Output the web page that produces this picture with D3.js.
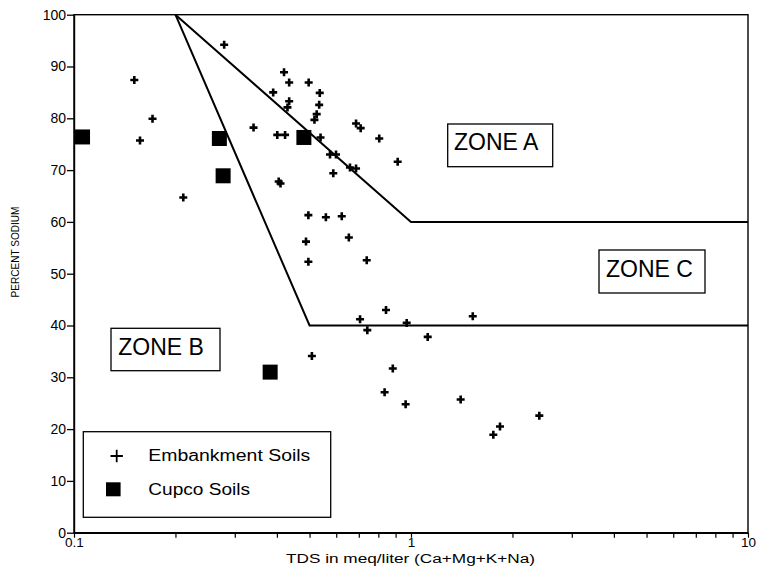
<!DOCTYPE html>
<html>
<head>
<meta charset="utf-8">
<script src="https://cdn.jsdelivr.net/npm/d3@7/dist/d3.min.js"></script>
<style>
  html, body { margin: 0; padding: 0; background: #fff; }
  svg { display: block; }
  text { font-family: "Liberation Sans", Arial, Helvetica, sans-serif; fill: #000; }
</style>
</head>
<body>
<svg id="chart" width="760" height="574"></svg>
<script>
// Embankment soils: TDS (meq/liter) and percent sodium
const embankTDS = [0.151, 0.171, 0.157, 0.211, 0.279, 0.341, 0.420, 0.435, 0.497, 0.390,
  0.536, 0.435, 0.430, 0.534, 0.525, 0.517, 0.401, 0.423, 0.539, 0.687,
  0.709, 0.805, 0.913, 0.575, 0.599, 0.659, 0.687, 0.588, 0.405, 0.410,
  0.496, 0.559, 0.623, 0.654, 0.488, 0.496, 0.739, 0.843, 0.706, 0.742,
  0.971, 1.525, 1.121, 0.508, 0.883, 0.835, 0.964, 1.404, 2.403, 1.837, 1.755];
const embankNa = [87.4, 79.9, 75.7, 64.7, 94.2, 78.2, 88.9, 86.9, 86.9, 85.0,
  84.9, 83.3, 82.1, 82.6, 80.8, 79.7, 76.8, 76.8, 76.3, 79.0,
  78.1, 76.1, 71.6, 73.0, 73.0, 70.5, 70.3, 69.4, 67.8, 67.4,
  61.3, 60.9, 61.1, 57.0, 56.2, 52.3, 52.6, 43.0, 41.2, 39.1,
  40.5, 41.8, 37.8, 34.1, 31.7, 27.1, 24.8, 25.7, 22.6, 20.5, 18.9];

// Cupco soils
const cupcoTDS = [0.106, 0.270, 0.277, 0.481, 0.382];
const cupcoNa = [76.4, 76.1, 68.9, 76.3, 31.0];

// Zone boundaries
const upperBoundTDS = [0.2, 1, 10];
const upperBoundNa = [100, 60, 60];
const lowerBoundTDS = [0.2, 0.5, 10];
const lowerBoundNa = [100, 40, 40];

// Axis ticks
const yTicks = [0, 10, 20, 30, 40, 50, 60, 70, 80, 90, 100];
const xMajorLabels = [0.1, 1, 10];

const svg = d3.select("#chart");
const plotLeft = 74, plotRight = 748, plotTop = 14.7, plotBottom = 532.7;

const x = d3.scaleLog().domain([0.1, 10]).range([plotLeft, plotRight]);
const y = d3.scaleLinear().domain([0, 100]).range([plotBottom, plotTop]);

// x ticks at every integer multiple within each decade
const xTickVals = [];
[0.1, 1].forEach(d => { for (let k = 1; k <= 9; k++) xTickVals.push(+(d * k).toFixed(3)); });
xTickVals.push(10);

// frame
svg.append("rect")
  .attr("x", plotLeft).attr("y", plotTop)
  .attr("width", plotRight - plotLeft).attr("height", plotBottom - plotTop)
  .attr("fill", "none").attr("stroke", "#000").attr("stroke-width", 1.4);

// y axis
const yAxis = svg.append("g")
  .attr("transform", `translate(${plotLeft},0)`)
  .call(d3.axisLeft(y).tickValues(yTicks).tickSize(7).tickSizeOuter(0).tickPadding(1));
yAxis.select(".domain").attr("stroke-width", 1.4);
yAxis.selectAll(".tick line").attr("stroke-width", 1.3);
yAxis.selectAll("text").style("font-size", "14px");

// x axis
const xAxis = svg.append("g")
  .attr("transform", `translate(0,${plotBottom})`)
  .call(d3.axisBottom(x).tickValues(xTickVals).tickSize(5).tickSizeOuter(0).tickPadding(0)
    .tickFormat(d => xMajorLabels.some(v => Math.abs(v - d) < 1e-9) ? String(d) : ""));
xAxis.select(".domain").attr("stroke-width", 1.4);
xAxis.selectAll(".tick line").attr("stroke-width", 1.2);
xAxis.selectAll("text").style("font-size", "13.5px");

// axis titles
svg.append("text")
  .attr("x", 286).attr("y", 563)
  .attr("textLength", 249).attr("lengthAdjust", "spacingAndGlyphs")
  .style("font-size", "12.5px")
  .text("TDS in meq/liter  (Ca+Mg+K+Na)");

svg.append("text")
  .attr("transform", "translate(19.3,252) rotate(-90)")
  .attr("text-anchor", "middle")
  .attr("textLength", 91).attr("lengthAdjust", "spacingAndGlyphs")
  .style("font-size", "10.5px")
  .text("PERCENT SODIUM");

// zone boundary lines
const line = d3.line().x(d => x(d[0])).y(d => y(d[1]));
[[upperBoundTDS, upperBoundNa], [lowerBoundTDS, lowerBoundNa]].forEach(([xs, ys]) => {
  svg.append("path")
    .datum(xs.map((v, i) => [v, ys[i]]))
    .attr("d", line)
    .attr("fill", "none").attr("stroke", "#000").attr("stroke-width", 2);
});

// zone labels
const zoneBoxes = [
  { label: "ZONE A", x0: 447.7, y0: 124, w: 105, h: 42.7, tx: 454, ty: 150 },
  { label: "ZONE C", x0: 599, y0: 250, w: 106, h: 43, tx: 606, ty: 276.7 },
  { label: "ZONE B", x0: 111, y0: 328.3, w: 109, h: 42.4, tx: 118.3, ty: 355 }
];
zoneBoxes.forEach(z => {
  svg.append("rect")
    .attr("x", z.x0).attr("y", z.y0).attr("width", z.w).attr("height", z.h)
    .attr("fill", "#fff").attr("stroke", "#000").attr("stroke-width", 1.3);
  svg.append("text")
    .attr("x", z.tx).attr("y", z.ty)
    .style("font-size", "23px")
    .text(z.label);
});

// plus marker
const plusPath = s => `M${-s},0H${s}M0,${-s}V${s}`;

// embankment soils
svg.append("g").selectAll("path")
  .data(embankTDS.map((v, i) => [v, embankNa[i]]))
  .join("path")
  .attr("transform", d => `translate(${x(d[0])},${y(d[1])})`)
  .attr("d", plusPath(4))
  .attr("stroke", "#000").attr("stroke-width", 2.6).attr("fill", "none");

// cupco soils
const sq = 15;
svg.append("g").selectAll("rect")
  .data(cupcoTDS.map((v, i) => [v, cupcoNa[i]]))
  .join("rect")
  .attr("x", d => x(d[0]) - sq / 2)
  .attr("y", d => y(d[1]) - sq / 2)
  .attr("width", sq).attr("height", sq)
  .attr("fill", "#000");

// legend
const lg = svg.append("g");
lg.append("rect")
  .attr("x", 83.3).attr("y", 431.7).attr("width", 247.4).attr("height", 85.6)
  .attr("fill", "#fff").attr("stroke", "#000").attr("stroke-width", 1.3);
lg.append("path")
  .attr("transform", "translate(116.7,456)")
  .attr("d", plusPath(6.2))
  .attr("stroke", "#000").attr("stroke-width", 1.8).attr("fill", "none");
lg.append("rect")
  .attr("x", 113.3 - 7.3).attr("y", 489.3 - 7).attr("width", 14.6).attr("height", 14)
  .attr("fill", "#000");
lg.append("text")
  .attr("x", 148.3).attr("y", 461)
  .attr("textLength", 162).attr("lengthAdjust", "spacingAndGlyphs")
  .style("font-size", "16px")
  .text("Embankment Soils");
lg.append("text")
  .attr("x", 148.3).attr("y", 494.5)
  .attr("textLength", 101.7).attr("lengthAdjust", "spacingAndGlyphs")
  .style("font-size", "16px")
  .text("Cupco Soils");
</script>
</body>
</html>
